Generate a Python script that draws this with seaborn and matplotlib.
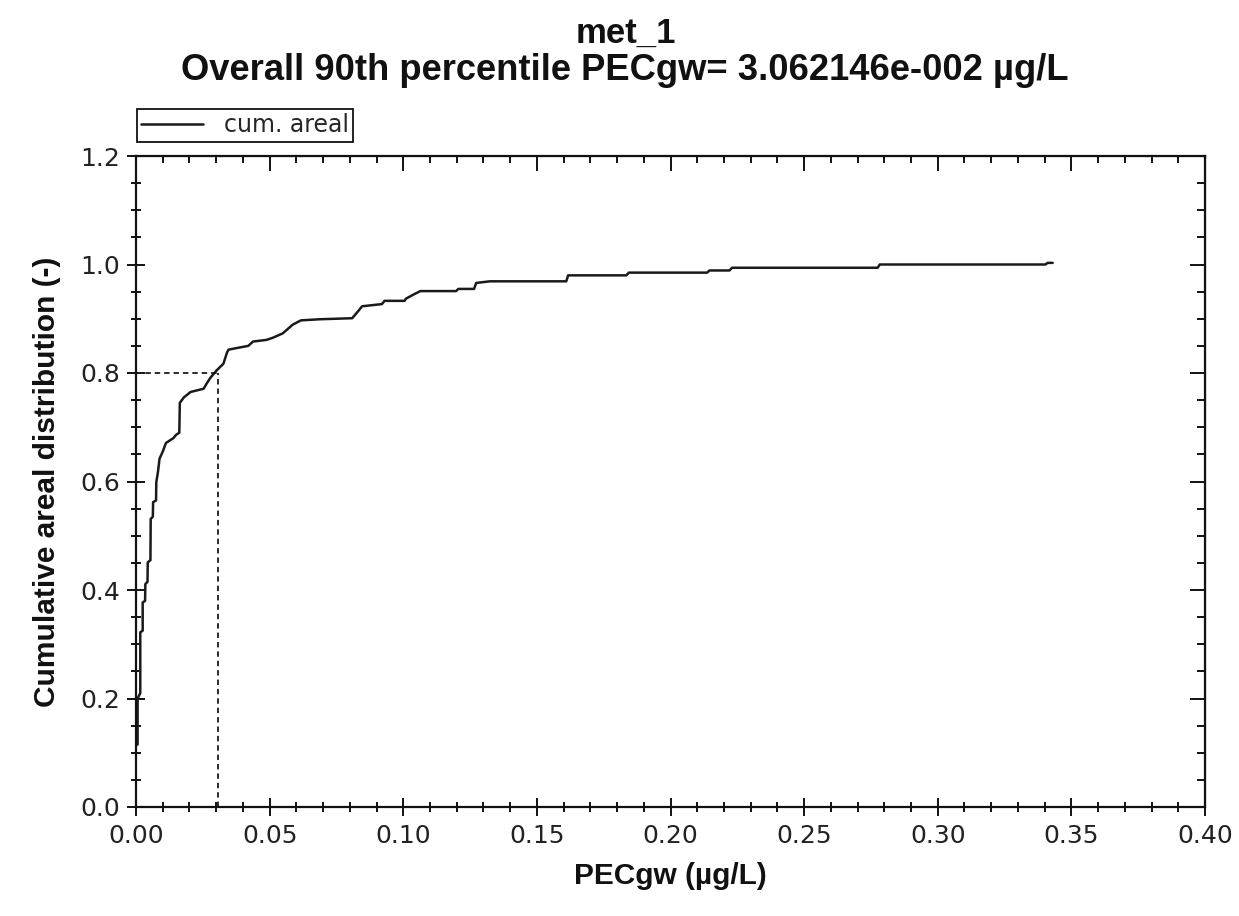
import numpy as np
import pandas as pd
import matplotlib
matplotlib.use("Agg")
import matplotlib.pyplot as plt
from matplotlib.ticker import MultipleLocator, FormatStrFormatter
import seaborn as sns

# ---- data ----
pec_values = [0.0006, 0.0006, 0.0016, 0.0016, 0.0025, 0.0025, 0.0034, 0.0035,
              0.0043, 0.0044, 0.0054, 0.0055, 0.0063, 0.0064, 0.0075, 0.0076,
              0.0082, 0.0088, 0.0100, 0.0112, 0.0140, 0.0150, 0.0162, 0.0164,
              0.0179, 0.0204, 0.0253, 0.0265, 0.0278, 0.0302, 0.0327, 0.0340,
              0.0346, 0.0377, 0.0420, 0.0438, 0.0488, 0.0512, 0.0549, 0.0586,
              0.0617, 0.0685, 0.0809, 0.0833, 0.0846, 0.0920, 0.0930, 0.1005,
              0.1010, 0.1040, 0.1064, 0.1198, 0.1206, 0.1265, 0.1273, 0.1324,
              0.1610, 0.1617, 0.1835, 0.1844, 0.2137, 0.2146, 0.2221, 0.2230,
              0.2775, 0.2783, 0.3403, 0.3411, 0.3430]
cum_areal = [0.115, 0.200, 0.210, 0.322, 0.325, 0.377, 0.380, 0.411,
             0.415, 0.451, 0.455, 0.531, 0.535, 0.562, 0.565, 0.599,
             0.617, 0.642, 0.655, 0.671, 0.680, 0.686, 0.690, 0.745,
             0.755, 0.765, 0.771, 0.781, 0.791, 0.805, 0.817, 0.837,
             0.843, 0.846, 0.850, 0.858, 0.861, 0.865, 0.873, 0.889,
             0.897, 0.899, 0.901, 0.915, 0.923, 0.927, 0.933, 0.933,
             0.937, 0.945, 0.951, 0.951, 0.955, 0.955, 0.966, 0.969,
             0.969, 0.980, 0.980, 0.985, 0.985, 0.989, 0.989, 0.994,
             0.994, 1.000, 1.000, 1.003, 1.003]
percentile_pec = 0.03062146
percentile_level = 0.8
x_ticks = [0.00, 0.05, 0.10, 0.15, 0.20, 0.25, 0.30, 0.35, 0.40]
y_ticks = [0.0, 0.2, 0.4, 0.6, 0.8, 1.0, 1.2]

sns.set_style("white")
plt.rcParams["font.family"] = ["DejaVu Sans"]

fig = plt.figure(figsize=(12.39, 9.16), dpi=100)
ax = fig.add_axes([136/1239, 1 - 807/916, (1205-136)/1239, (807-156)/916])

df = pd.DataFrame({"PECgw": pec_values, "cum": cum_areal})
sns.lineplot(data=df, x="PECgw", y="cum", sort=False, estimator=None,
             color="#1a1a1a", linewidth=1.8, ax=ax, label="cum. areal")

# percentile guide lines
ax.plot([0, percentile_pec], [percentile_level, percentile_level],
        color="#1a1a1a", linewidth=1.3, dashes=(3, 2.2))
ax.plot([percentile_pec, percentile_pec], [0, percentile_level],
        color="#1a1a1a", linewidth=1.3, dashes=(3, 2.2))

ax.set_xlim(0, 0.40)
ax.set_ylim(0, 1.2)
ax.set_xticks(x_ticks)
ax.set_yticks(y_ticks)
ax.xaxis.set_major_formatter(FormatStrFormatter("%.2f"))
ax.yaxis.set_major_formatter(FormatStrFormatter("%.1f"))
ax.xaxis.set_minor_locator(MultipleLocator(0.01))
ax.yaxis.set_minor_locator(MultipleLocator(0.05))

for s in ax.spines.values():
    s.set_visible(True)
    s.set_color("#111111")
    s.set_linewidth(1.6)

ax.tick_params(axis="both", which="both", bottom=True, left=True,
               top=False, right=False)
ax.tick_params(axis="both", which="major", direction="inout", length=13,
               width=1.4, color="#111111", labelsize=18, labelcolor="#222222")
ax.tick_params(axis="both", which="minor", direction="inout", length=7,
               width=1.4, color="#111111")
ax.tick_params(axis="x", which="major", pad=6)
ax.tick_params(axis="y", which="major", pad=5)

# top & right inward ticks
secx = ax.secondary_xaxis("top")
secx.set_xticks(x_ticks)
secx.xaxis.set_minor_locator(MultipleLocator(0.01))
secx.tick_params(which="both", top=True)
secx.tick_params(which="major", direction="in", length=11, width=1.4,
                 color="#111111", labeltop=False)
secx.tick_params(which="minor", direction="in", length=5, width=1.4,
                 color="#111111")
secy = ax.secondary_yaxis("right")
secy.set_yticks(y_ticks)
secy.yaxis.set_minor_locator(MultipleLocator(0.05))
secy.tick_params(which="both", right=True)
secy.tick_params(which="major", direction="in", length=11, width=1.4,
                 color="#111111", labelright=False)
secy.tick_params(which="minor", direction="in", length=6, width=1.4,
                 color="#111111")

ax.set_xlabel("PECgw (µg/L)", fontsize=21.5, fontweight="bold",
              family="Liberation Sans", labelpad=10, color="#111111")
ax.set_ylabel("Cumulative areal distribution (-)", fontsize=21.5,
              fontweight="bold", family="Liberation Sans", labelpad=14,
              color="#111111")

leg = ax.legend(loc="upper left", bbox_to_anchor=(0.001, 1.072), frameon=True,
                fancybox=False, fontsize=17, handlelength=2.6,
                borderpad=0.18, handletextpad=0.9, borderaxespad=0.0)
leg.get_frame().set_edgecolor("#111111")
leg.get_frame().set_linewidth(1.3)
leg.get_frame().set_alpha(1)

fig.text(0.505, 1 - 43/916, "met_1", ha="center", va="baseline", fontsize=25,
         fontweight="bold", family="Liberation Sans", color="#111111")
fig.text(0.504, 1 - 80/916,
         "Overall 90th percentile PECgw= 3.062146e-002 µg/L",
         ha="center", va="baseline", fontsize=26.2, fontweight="bold",
         family="Liberation Sans", color="#111111")

fig.savefig("out.png", dpi=100, facecolor="white")
